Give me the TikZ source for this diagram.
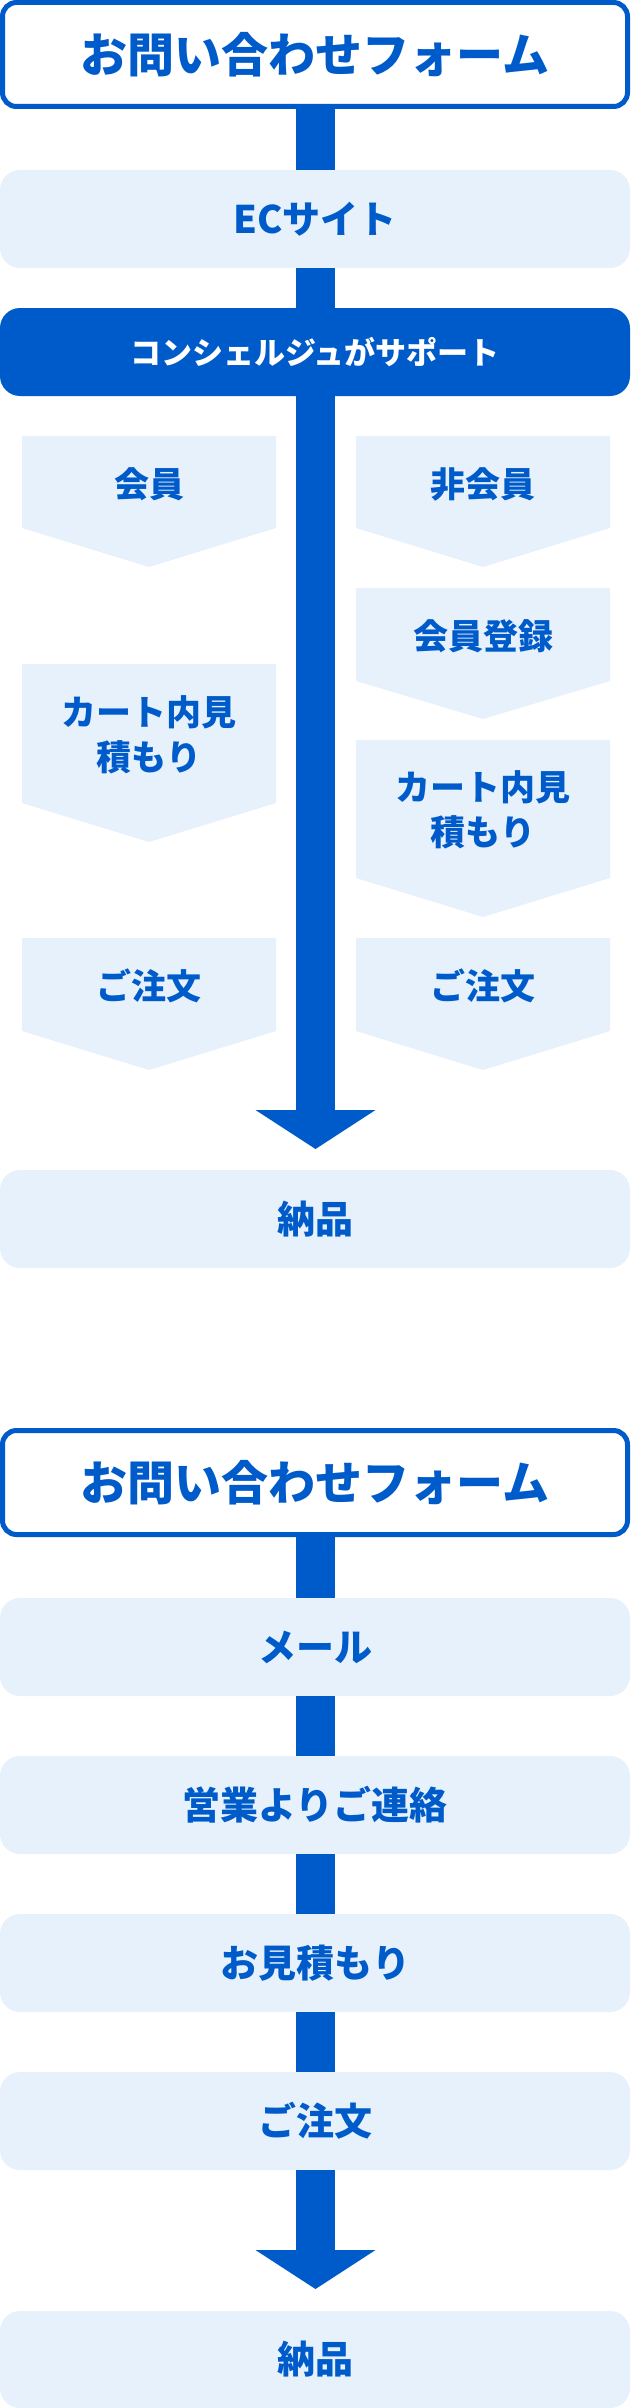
\documentclass[tikz,border=0pt]{standalone}
\usepackage{fontspec}
\setmainfont{Noto Sans CJK JP}
\usetikzlibrary{arrows.meta}
\definecolor{mainblue}{HTML}{005BCA}
\definecolor{lightblue}{HTML}{E6F1FC}
\tikzset{
  formbox/.style={draw=mainblue, line width=5pt, fill=white, rounded corners=14pt,
    minimum width=625pt, minimum height=104pt, inner sep=0pt,
    text=mainblue, font=\fontsize{47pt}{52pt}\selectfont\bfseries},
  stepbox/.style={fill=lightblue, rounded corners=20pt, minimum width=630pt,
    minimum height=98pt, inner sep=0pt, text=mainblue,
    font=\fontsize{38pt}{44pt}\selectfont\bfseries},
  darkbox/.style={fill=mainblue, rounded corners=20pt, minimum width=630pt,
    minimum height=88pt, inner sep=0pt, text=white,
    font=\fontsize{31pt}{36pt}\selectfont\bfseries},
  chevfill/.style={fill=lightblue},
  chevtext/.style={text=mainblue, align=center, inner sep=0pt,
    font=\fontsize{35pt}{45pt}\selectfont\bfseries},
  bar/.style={draw=mainblue, line width=39pt},
  bigarrow/.style={draw=mainblue, line width=39pt,
    -{Triangle[width=120pt,length=39pt,line width=0pt,fill=mainblue]}},
}
\begin{document}
\begin{tikzpicture}[x=1pt,y=-1pt]
\useasboundingbox (0,0) rectangle (630,2408);

% ---------- Section 1 ----------
\node[formbox] (form1) at (315,54.5) {お問い合わせフォーム};
\node[stepbox] (ec) at (315,219) {ECサイト};
\node[darkbox] (sup) at (315,352) {コンシェルジュがサポート};

% chevrons left column
\path[chevfill] (22,436) -- (276,436) -- (276,528) -- (149,567) -- (22,528) -- cycle;
\node[chevtext] (mem) at (149,484) {会員};
\path[chevfill] (22,664) -- (276,664) -- (276,803) -- (149,842) -- (22,803) -- cycle;
\node[chevtext] (cartL) at (149,735) {カート内見\\積もり};
\path[chevfill] (22,938) -- (276,938) -- (276,1031) -- (149,1070) -- (22,1031) -- cycle;
\node[chevtext] (ordL) at (149,986) {ご注文};

% chevrons right column
\path[chevfill] (356,436) -- (610,436) -- (610,528) -- (483,567) -- (356,528) -- cycle;
\node[chevtext] (nonmem) at (483,484) {非会員};
\path[chevfill] (356,588) -- (610,588) -- (610,681) -- (483,719) -- (356,681) -- cycle;
\node[chevtext] (reg) at (483,636) {会員登録};
\path[chevfill] (356,740) -- (610,740) -- (610,878) -- (483,917) -- (356,878) -- cycle;
\node[chevtext] (cartR) at (483,810) {カート内見\\積もり};
\path[chevfill] (356,938) -- (610,938) -- (610,1031) -- (483,1070) -- (356,1031) -- cycle;
\node[chevtext] (ordR) at (483,986) {ご注文};

\node[stepbox] (deliv1) at (315,1219) {納品};
\coordinate (tip1) at (315.5,1149);

\draw[bar] (form1.south -| 315.5,0) -- (ec.north -| 315.5,0);
\draw[bar] (ec.south -| 315.5,0) -- (sup.north -| 315.5,0);
\draw[bigarrow] (sup.south -| 315.5,0) -- (tip1);

% ---------- Section 2 ----------
\node[formbox] (form2) at (315,1482.5) {お問い合わせフォーム};
\node[stepbox] (mail) at (315,1647) {メール};
\node[stepbox] (sales) at (315,1805) {営業よりご連絡};
\node[stepbox] (quote) at (315,1963) {お見積もり};
\node[stepbox] (ord2) at (315,2121) {ご注文};
\node[stepbox, minimum height=97pt] (deliv2) at (315,2359.5) {納品};
\coordinate (tip2) at (315.5,2289);

\draw[bar] (form2.south -| 315.5,0) -- (mail.north -| 315.5,0);
\draw[bar] (mail.south -| 315.5,0) -- (sales.north -| 315.5,0);
\draw[bar] (sales.south -| 315.5,0) -- (quote.north -| 315.5,0);
\draw[bar] (quote.south -| 315.5,0) -- (ord2.north -| 315.5,0);
\draw[bigarrow] (ord2.south -| 315.5,0) -- (tip2);
\end{tikzpicture}
\end{document}
